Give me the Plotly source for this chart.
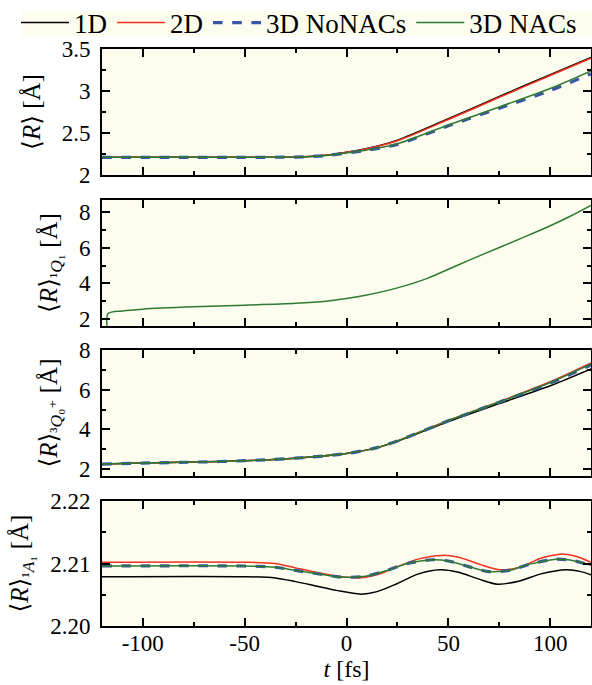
import plotly.graph_objects as go

# ---------------- data ----------------
# Panel 1: <R>
t1 = [-120, -75, -50, -30, -20, -10, 0, 10, 25, 50, 75, 100, 120]
r1_1d = [2.21, 2.21, 2.21, 2.212, 2.217, 2.235, 2.27, 2.315, 2.415, 2.67, 2.935, 3.195, 3.40]
r1_2d = [2.21, 2.21, 2.21, 2.212, 2.217, 2.235, 2.27, 2.312, 2.408, 2.66, 2.925, 3.185, 3.39]
r1_nonac = [2.21, 2.21, 2.21, 2.212, 2.217, 2.232, 2.262, 2.295, 2.365, 2.585, 2.795, 3.005, 3.205]
r1_nac = [2.21, 2.21, 2.21, 2.212, 2.217, 2.232, 2.263, 2.298, 2.372, 2.595, 2.81, 3.03, 3.24]

# Panel 2: <R>_{1Q1}
t2 = [-117.01, -117, -110, -100, -75, -50, -25, -10, 0, 10, 25, 40, 50, 60, 75, 90, 100, 110, 120]
r2_nac = [1.0, 2.3, 2.45, 2.55, 2.68, 2.77, 2.88, 3.0, 3.15, 3.35, 3.75, 4.3, 4.8, 5.3, 6.02, 6.75, 7.25, 7.8, 8.4]

# Panel 3: <R>_{3Q0+}
t3 = [-120, -100, -75, -50, -25, 0, 15, 25, 50, 75, 100, 120]
r3_1d = [2.25, 2.3, 2.35, 2.42, 2.55, 2.78, 3.08, 3.4, 4.4, 5.3, 6.2, 7.05]
r3_2d = [2.25, 2.3, 2.35, 2.42, 2.55, 2.78, 3.08, 3.42, 4.45, 5.4, 6.4, 7.35]
r3_nonac = [2.25, 2.3, 2.35, 2.42, 2.55, 2.78, 3.08, 3.42, 4.43, 5.37, 6.33, 7.25]
r3_nac = [2.25, 2.3, 2.35, 2.42, 2.55, 2.78, 3.08, 3.42, 4.44, 5.38, 6.36, 7.3]

# Panel 4: <R>_{1A1}
t4_1d = [-120, -50, -35, -25, -15, -5, 7, 15, 25, 35, 46, 55, 65, 74, 85, 95, 108, 115, 120]
r4_1d = [2.2079, 2.2079, 2.2077, 2.2071, 2.2064, 2.2057, 2.2051, 2.2055, 2.2068, 2.2083, 2.2090,
         2.2086, 2.2075, 2.2067, 2.2072, 2.2083, 2.2090, 2.2087, 2.2082]
t4_2d = [-120, -50, -35, -25, -15, -5, 0, 6, 15, 25, 35, 47, 55, 65, 75, 85, 95, 105, 112, 120]
r4_2d = [2.2102, 2.2102, 2.2100, 2.2093, 2.2086, 2.2080, 2.2078, 2.2077, 2.2082, 2.2095, 2.2107,
         2.2113, 2.2110, 2.2099, 2.2090, 2.2094, 2.2108, 2.2115, 2.2112, 2.2102]
t4_3d = [-120, -50, -35, -25, -15, -5, 2, 10, 20, 30, 42, 50, 60, 70, 80, 90, 103, 112, 120]
r4_nonac = [2.2096, 2.2096, 2.2094, 2.2089, 2.2084, 2.2079, 2.2078, 2.2080, 2.2089, 2.2100, 2.2106,
            2.2104, 2.2095, 2.2087, 2.2089, 2.2099, 2.2107, 2.2104, 2.2097]
r4_nac = r4_nonac

series_names = ["1D", "2D", "3D NoNACs", "3D NACs"]
x_ticks = [-100, -50, 0, 50, 100]
x_text = ["-100", "-50", "0", "50", "100"]
y1_ticks = [2, 2.5, 3, 3.5]
y1_text = ["2", "2.5", "3", "3.5"]
y2_ticks = [2, 4, 6, 8]
y3_ticks = [2, 4, 6, 8]
y4_ticks = [2.20, 2.21, 2.22]
y4_text = ["2.20", "2.21", "2.22"]

# ---------------- styling ----------------
FONT = "Liberation Serif, DejaVu Serif, serif"
BG = "#fdfdef"
colors = {"1D": "black", "2D": "#f2311f", "3D NoNACs": "#3a55a4", "3D NACs": "#2e7a32"}
widths = {"1D": 1.5, "2D": 1.5, "3D NoNACs": 3.2, "3D NACs": 1.5}
dashes = {"1D": "solid", "2D": "solid", "3D NoNACs": "dash", "3D NACs": "solid"}

fig = go.Figure()

def add(x, y, name, axis_idx, show, shape="spline"):
    fig.add_trace(go.Scatter(
        x=x, y=y, mode="lines", name=name, legendgroup=name, showlegend=show,
        line=dict(color=colors[name], width=widths[name], dash=dashes[name], shape=shape, smoothing=0.8),
        xaxis="x" if axis_idx == 1 else f"x{axis_idx}",
        yaxis="y" if axis_idx == 1 else f"y{axis_idx}",
    ))

add(t1, r1_1d, "1D", 1, True)
add(t1, r1_2d, "2D", 1, True)
add(t1, r1_nonac, "3D NoNACs", 1, True)
add(t1, r1_nac, "3D NACs", 1, True)

add(t2, r2_nac, "3D NACs", 2, False)

add(t3, r3_1d, "1D", 3, False)
add(t3, r3_2d, "2D", 3, False)
add(t3, r3_nonac, "3D NoNACs", 3, False)
add(t3, r3_nac, "3D NACs", 3, False)

add(t4_1d, r4_1d, "1D", 4, False)
add(t4_2d, r4_2d, "2D", 4, False)
add(t4_3d, r4_nonac, "3D NoNACs", 4, False)
add(t4_3d, r4_nac, "3D NACs", 4, False)

W, H = 592, 685
M_L, M_R = 102, 1
TOP, BOT = 49, 626
M_T, M_B = TOP, H - BOT
PH = BOT - TOP
PW = W - M_L - M_R

def dom(top, bot):
    return [max(0, 1 - (bot - TOP) / PH), min(1, 1 - (top - TOP) / PH)]

domains = [dom(49, 175), dom(200, 326), dom(350, 476), dom(501, 626)]

def xaxis(i, show_labels):
    d = dict(
        range=[-120, 120], domain=[0, 1], anchor="y" if i == 1 else f"y{i}",
        tickvals=x_ticks, ticktext=x_text, ticks="inside", ticklen=8, tickwidth=2, tickcolor="black",
        minor=dict(ticks="inside", ticklen=4, tickwidth=2, tickcolor="black", dtick=25, tick0=0),
        showline=True, linecolor="black", linewidth=2, mirror="ticks",
        showgrid=False, zeroline=False, showticklabels=show_labels, automargin=False,
        tickfont=dict(family=FONT, size=23, color="black"), ticklabelstandoff=-5,
    )
    if i != 1:
        d["matches"] = "x"
    if show_labels:
        d["title"] = dict(text="<i>t</i> [fs]", font=dict(family=FONT, size=24, color="black"), standoff=6)
    return d

def yaxis(i, rng, tv, tt, minor_dtick, title):
    return dict(
        range=rng, domain=domains[i - 1], anchor="x" if i == 1 else f"x{i}",
        tickvals=tv, ticktext=tt, ticks="inside", ticklen=8, tickwidth=2, tickcolor="black",
        minor=dict(ticks="inside", ticklen=4, tickwidth=2, tickcolor="black", dtick=minor_dtick, tick0=tv[0]),
        showline=True, linecolor="black", linewidth=2, mirror="ticks",
        showgrid=False, zeroline=False, automargin=False,
        tickfont=dict(family=FONT, size=23, color="black"), ticklabelstandoff=5,
        title=dict(text=title, font=dict(family=FONT, size=25, color="black"), standoff=14),
    )

fig.update_layout(
    width=W, height=H,
    margin=dict(l=M_L, r=M_R, t=M_T, b=M_B, autoexpand=False),
    paper_bgcolor="white", plot_bgcolor=BG,
    font=dict(family=FONT, size=20, color="black"),
    xaxis=xaxis(1, False), xaxis2=xaxis(2, False), xaxis3=xaxis(3, False), xaxis4=xaxis(4, True),
    yaxis=yaxis(1, [2, 3.5], y1_ticks, y1_text, 0.25, "⟨<i>R</i>⟩ [Å]"),
    yaxis2=yaxis(2, [1.6, 8.7], y2_ticks, [str(v) for v in y2_ticks], 1, "⟨<i>R</i>⟩<sub>¹<i>Q</i>₁</sub> [Å]"),
    yaxis3=yaxis(3, [1.65, 8.0], y3_ticks, [str(v) for v in y3_ticks], 1, "⟨<i>R</i>⟩<sub>³<i>Q</i>₀⁺</sub> [Å]"),
    yaxis4=yaxis(4, [2.20, 2.22], y4_ticks, y4_text, 0.005, "⟨<i>R</i>⟩<sub>¹<i>A</i>₁</sub> [Å]"),
    legend=dict(
        orientation="h",
        x=(16 - M_L) / PW,
        y=1 + (TOP - 23) / PH,
        xanchor="left", yanchor="middle",
        bgcolor="rgba(0,0,0,0)", font=dict(family=FONT, size=27, color="black"),
        itemwidth=48, tracegroupgap=0,
    ),
    shapes=[dict(
        type="rect", xref="paper", yref="paper", layer="below",
        x0=(22 - M_L) / PW, x1=(W - M_L) / PW,
        y0=1 + (TOP - 36) / PH, y1=1 + (TOP - 11) / PH,
        fillcolor=BG, line=dict(width=0),
    )],
)

fig.write_html(
    "out.html",
    config={"displayModeBar": False},
    post_script="document.body.style.margin='0';document.body.style.overflow='hidden';",
)
